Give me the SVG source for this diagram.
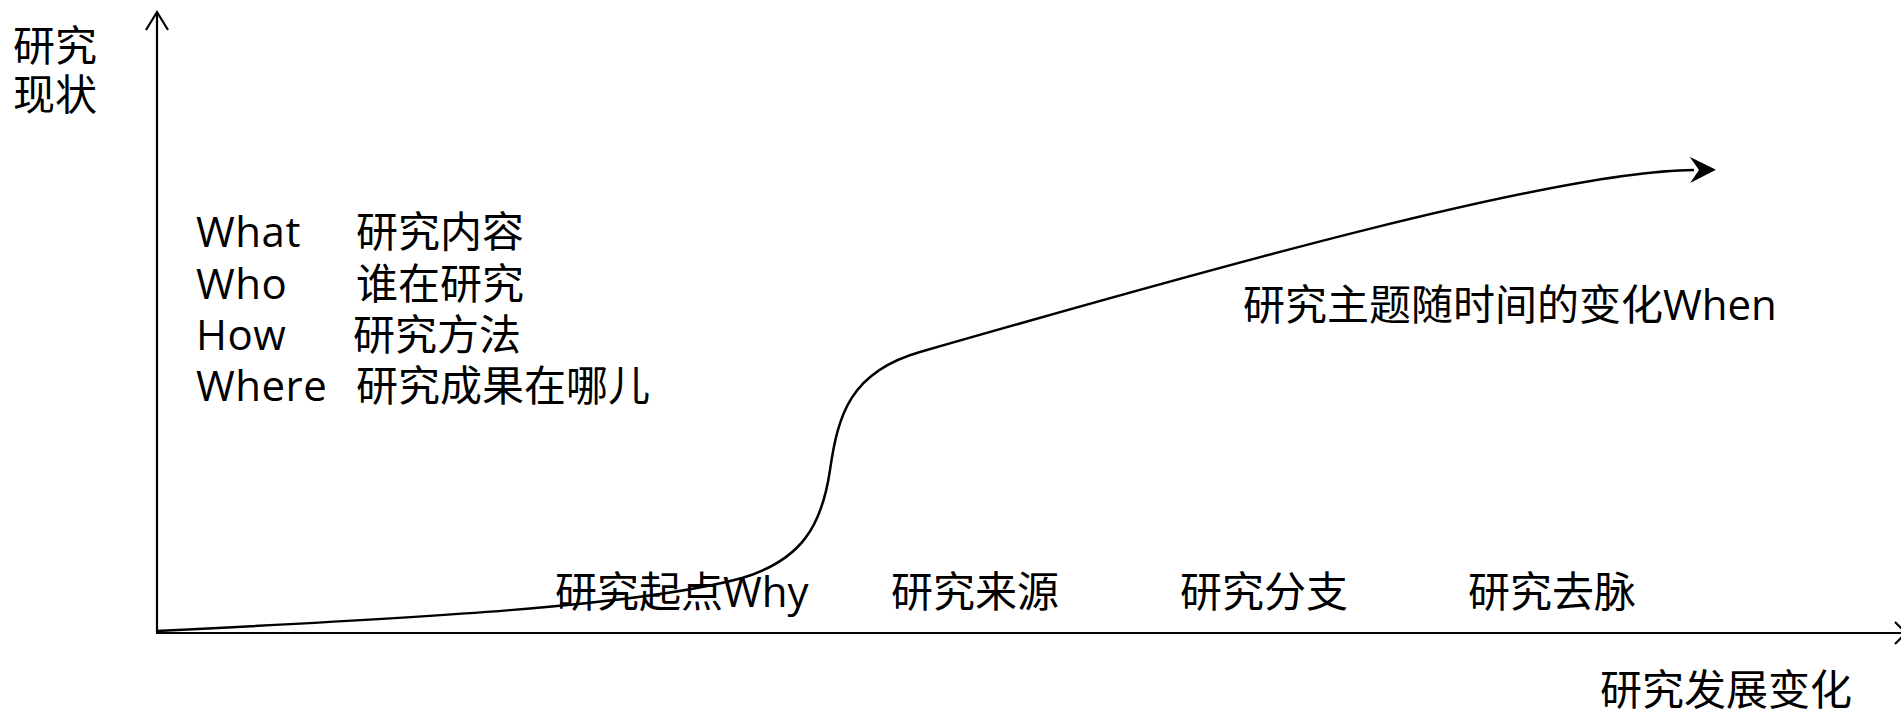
<svg xmlns="http://www.w3.org/2000/svg" width="1901" height="710" viewBox="0 0 1901 710">
  <style>
    text { font-family: "Open Sans", "Noto Sans CJK SC", sans-serif; font-size: 42px; fill: #000; }
    .latin { letter-spacing: 0.5px; }
    .axis { stroke: #000; stroke-width: 2.2; fill: none; }
    .curve { stroke: #000; stroke-width: 2.5; fill: none; }
  </style>
  <defs>
    <marker id="stealth" markerUnits="userSpaceOnUse" markerWidth="30" markerHeight="30" viewBox="0 0 30 30" refX="4" refY="15" orient="auto">
      <path d="M0,2 L26,15 L0,28 L9,15 Z" fill="#000"/>
    </marker>
  </defs>
  <rect width="1901" height="710" fill="#fff"/>

  <g id="connectors">
    <g id="y-axis">
      <line class="axis" x1="157" y1="633" x2="157" y2="12"/>
      <polyline class="axis" points="146,30 157,12 168,30"/>
    </g>
    <g id="x-axis">
      <line class="axis" x1="156" y1="633" x2="1905" y2="633"/>
      <polyline class="axis" points="1895,622 1906,633 1895,644"/>
    </g>
    <path id="trend-curve" class="curve" d="M157,631 C420,618 640,606 742,578 C802,560 822,525 830,470 C838,415 850,372 920,352 C1220,266 1558,171 1694,170" marker-end="url(#stealth)"/>
  </g>

  <g id="y-label">
    <text x="13" y="61">研究</text>
    <text x="13" y="110">现状</text>
  </g>

  <g id="questions">
    <text class="latin" x="196" y="247">What</text>
    <text x="356" y="247">研究内容</text>
    <text class="latin" x="196" y="299">Who</text>
    <text x="356" y="299">谁在研究</text>
    <text class="latin" x="196" y="350">How</text>
    <text x="353" y="350">研究方法</text>
    <text class="latin" x="196" y="401">Where</text>
    <text x="356" y="401">研究成果在哪儿</text>
  </g>

  <g id="stage-why"><text x="555" y="607">研究起点Why</text></g>
  <g id="stage-source"><text x="891" y="607">研究来源</text></g>
  <g id="stage-branch"><text x="1180" y="607">研究分支</text></g>
  <g id="stage-end"><text x="1468" y="607">研究去脉</text></g>
  <g id="when-label"><text x="1243" y="320">研究主题随时间的变化When</text></g>
  <g id="x-label"><text x="1600" y="705">研究发展变化</text></g>
</svg>
